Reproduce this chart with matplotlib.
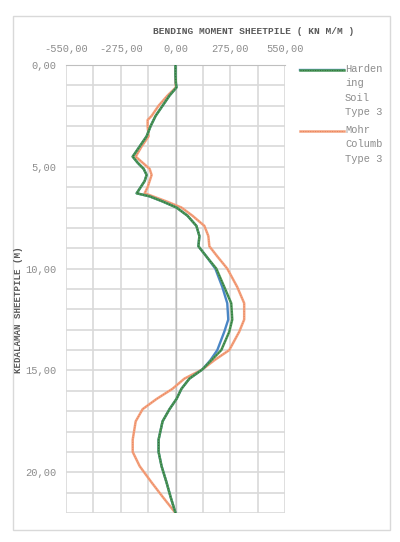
import matplotlib
matplotlib.use("Agg")
import matplotlib.pyplot as plt
from matplotlib.lines import Line2D
from matplotlib.patches import Rectangle
from matplotlib.ticker import MultipleLocator, FuncFormatter

# ===================== data =====================
depth_hs = [0, 0.5, 0.9, 1.1, 1.5, 2.0, 2.5, 3.0, 3.5, 4.0, 4.5, 4.8, 5.1, 5.4,
            5.7, 6.0, 6.3, 6.45, 6.7, 7.0, 7.4, 7.9, 8.4, 8.9, 9.4, 10.0, 10.9,
            11.7, 12.5, 13.1, 14.0, 14.5, 14.95, 15.4, 15.9, 16.4, 16.9, 17.5,
            18.4, 19.0, 19.7, 20.5, 21.2, 22.0]
moment_hs = [0, 0, 2, 5, -30, -65, -100, -125, -145, -180, -215, -190, -160, -145,
             -155, -175, -195, -130, -65, 5, 60, 105, 120, 115, 155, 205, 245,
             280, 285, 270, 230, 180, 135, 70, 30, 5, -30, -65,
             -85, -85, -70, -45, -25, 0]
moment_hs_blue = [0, 0, 2, 5, -30, -65, -100, -125, -145, -180, -215, -190, -160, -145,
                  -155, -175, -195, -130, -65, 5, 60, 105, 120, 115, 155, 200, 235,
                  260, 265, 245, 210, 175, 135, 70, 30, 5, -30, -65,
                  -85, -85, -70, -45, -25, 0]

depth_mc = [0, 0.5, 0.9, 1.1, 1.5, 2.0, 2.5, 2.7, 3.0, 3.5, 4.0, 4.5, 4.8, 5.1,
            5.4, 5.7, 6.0, 6.3, 6.5, 6.7, 7.0, 7.4, 7.9, 8.4, 8.9, 9.4, 10.0,
            10.9, 11.7, 12.5, 13.1, 14.0, 14.5, 14.95, 15.4, 15.9, 16.4, 16.9,
            17.5, 18.4, 19.0, 19.7, 20.5, 21.2, 22.0]
moment_mc = [0, 0, 0, 2, -40, -85, -120, -140, -140, -135, -170, -200, -165, -130,
             -120, -130, -140, -155, -100, -45, 30, 85, 145, 165, 170, 210, 260,
             310, 345, 345, 320, 270, 195, 135, 45, -15, -95, -165,
             -200, -215, -215, -180, -120, -65, 0]

x_ticks = [-550, -275, 0, 275, 550]
y_ticks = [0, 5, 10, 15, 20]
legend_labels = ["Harden\ning\nSoil\nType 3", "Mohr\nColumb\nType 3"]

# ===================== plot =====================
plt.rcParams["font.family"] = ["Liberation Mono", "DejaVu Sans Mono"]
fig = plt.figure(figsize=(4.0, 5.42), dpi=100)
W, H = 400.0, 542.0
fig.patches.append(Rectangle((13 / W, 1 - 530 / H), 377 / W, 514 / H,
                             transform=fig.transFigure, fill=False,
                             edgecolor="#d9d9d9", linewidth=1))

ax = fig.add_axes([66 / W, 1 - 513 / H, 219 / W, 448 / H])
ax.set_xlim(-550, 550)
ax.set_ylim(22, 0)

ax.xaxis.set_minor_locator(MultipleLocator(137.5))
ax.yaxis.set_minor_locator(MultipleLocator(1))
ax.set_xticks(x_ticks)
ax.set_yticks(y_ticks)
fmt = FuncFormatter(lambda v, p: f"{v:.2f}".replace(".", ","))
ax.xaxis.set_major_formatter(fmt)
ax.yaxis.set_major_formatter(fmt)
ax.xaxis.tick_top()
ax.tick_params(axis="both", which="both", length=0, labelsize=7.5,
               labelcolor="#8c8c8c", pad=8)
ax.tick_params(axis="y", pad=7)
ax.grid(True, which="both", color="#d9d9d9", linewidth=1.2)
ax.set_axisbelow(True)
for side in ["left", "right", "bottom"]:
    ax.spines[side].set_visible(False)
ax.spines["top"].set_color("#bfbfbf")
ax.axvline(0, color="#bfbfbf", linewidth=1, zorder=1)

style_blue = dict(color="#4a86c5", linewidth=1.7)
style_green = dict(color="#4f9a5a", linewidth=1.8)
style_mc = dict(color="#f4a27e", linewidth=1.8)
ax.plot(moment_mc, depth_mc, zorder=2, **style_mc)
ax.plot(moment_mc, depth_mc, color="#e8825a", linewidth=0.7,
        linestyle=(0, (1, 1.5)), zorder=2)
ax.plot(moment_hs_blue, depth_hs, zorder=3, **style_blue)
ax.plot(moment_hs, depth_hs, zorder=4, **style_green)
ax.plot(moment_hs, depth_hs, color="#2f6e3a", linewidth=0.8,
        linestyle=(0, (1, 1.5)), zorder=5)

fig.text(254 / W, 1 - 31 / H, "BENDING MOMENT SHEETPILE ( KN M/M )",
         ha="center", va="center", fontsize=6.8, fontweight="bold", color="#595959")
fig.text(19 / W, 1 - 310 / H, "KEDALAMAN SHEETPILE (M)", rotation=90,
         ha="center", va="center", fontsize=6.6, fontweight="bold", color="#595959")

# legend drawn by hand so the marker sits beside the first line of each label
legend_rows = [(70, [style_blue, style_green]), (131, [style_mc])]
for (ly, styles), label in zip(legend_rows, legend_labels):
    for st in styles:
        fig.add_artist(Line2D([300 / W, 344 / W], [1 - ly / H] * 2,
                              transform=fig.transFigure, **st))
    fig.add_artist(Line2D([300 / W, 344 / W], [1 - ly / H] * 2,
                          transform=fig.transFigure, linewidth=0.7,
                          linestyle=(0, (1, 1.5)),
                          color="#2f6e3a" if len(styles) > 1 else "#e8825a"))
    fig.text(345 / W, 1 - (ly - 6) / H, label, ha="left", va="top",
             fontsize=7.5, color="#8c8c8c", linespacing=1.55)

fig.savefig("out.png", dpi=100)
